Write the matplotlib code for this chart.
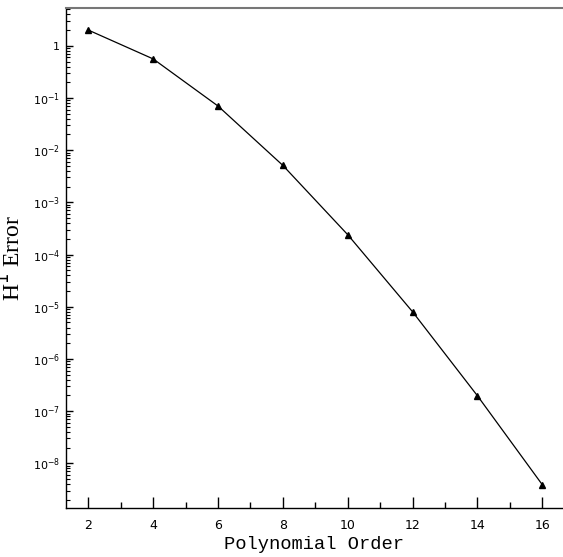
import numpy as np
import matplotlib.pyplot as plt
from matplotlib.ticker import FixedLocator, LogLocator, FuncFormatter, NullFormatter

# data
order = [2, 4, 6, 8, 10, 12, 14, 16]
h1_error = [2.0, 0.56, 0.070, 5.1e-3, 2.4e-4, 8.0e-6, 1.97e-7, 3.9e-9]


def log_label(v, pos):
    e = int(round(np.log10(v)))
    if e == 0:
        return "1"
    return r"$10^{%d}$" % e


fig = plt.figure(figsize=(5.63, 5.57), dpi=100)
ax = fig.add_axes([0.1167, 0.0885, 0.8833, 0.8975])

ax.plot(order, h1_error, color="black", lw=0.9, marker="^", ms=4.5,
        markerfacecolor="black", markeredgecolor="black")

ax.set_yscale("log")
ax.set_xlim(1.3, 16.64)
ax.set_ylim(1.41e-9, 5.35)

#--- ticks ------------------------------------------------------------
ax.xaxis.set_major_locator(FixedLocator(order))
ax.xaxis.set_minor_locator(FixedLocator(np.arange(3, 16, 2)))
ax.yaxis.set_major_locator(LogLocator(base=10, numticks=20))
ax.yaxis.set_minor_locator(LogLocator(base=10, subs=np.arange(2, 10), numticks=20))
ax.yaxis.set_major_formatter(FuncFormatter(log_label))
ax.yaxis.set_minor_formatter(NullFormatter())

ax.tick_params(axis="x", which="major", direction="in", length=8, width=1,
               labelsize=9, pad=8, top=False)
ax.tick_params(axis="x", which="minor", direction="in", length=4, width=1, top=False)
ax.tick_params(axis="y", which="major", direction="in", length=5, width=1,
               labelsize=8, pad=4, right=False)
ax.tick_params(axis="y", which="minor", direction="in", length=3, width=0.8, right=False)

for lab in ax.get_xticklabels() + ax.get_yticklabels():
    lab.set_family("DejaVu Sans")

#--- spines -----------------------------------------------------------
ax.spines["right"].set_visible(False)
ax.spines["top"].set_color("#777777")
ax.spines["top"].set_linewidth(1.5)
ax.spines["left"].set_linewidth(1.0)
ax.spines["bottom"].set_linewidth(1.0)

ax.set_xlabel("Polynomial Order", family="Liberation Mono", fontsize=13.5, labelpad=3)
ax.set_ylabel(r"H$^1$ Error", family="Liberation Serif", fontsize=17, labelpad=5)

plt.savefig("out.png", dpi=100)
